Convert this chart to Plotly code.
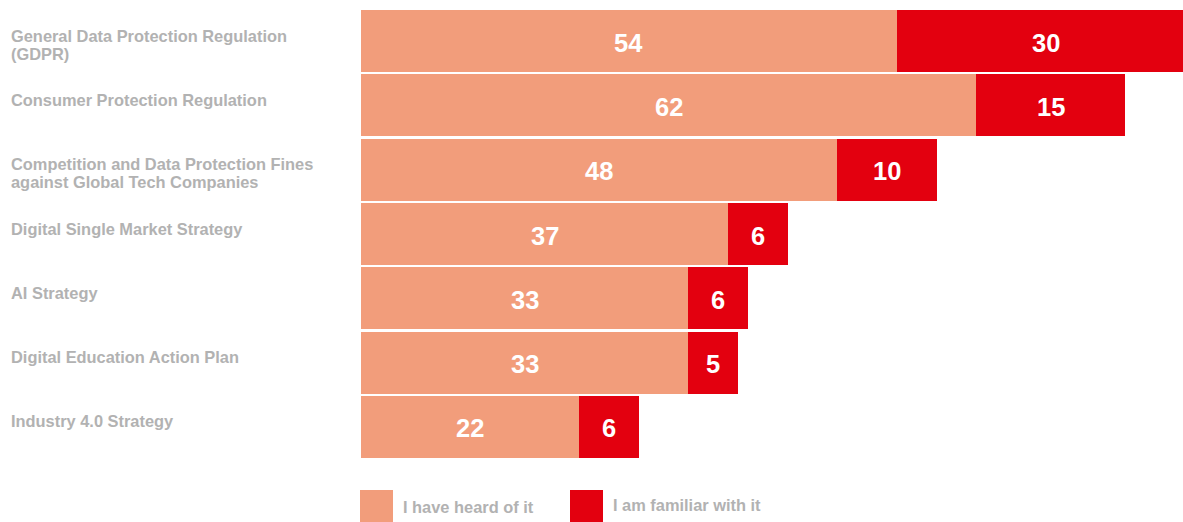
import plotly.graph_objects as go

# --- data -------------------------------------------------------------
categories = [
    "General Data Protection Regulation<br>(GDPR)",
    "Consumer Protection Regulation",
    "Competition and Data Protection Fines<br>against Global Tech Companies",
    "Digital Single Market Strategy",
    "AI Strategy",
    "Digital Education Action Plan",
    "Industry 4.0 Strategy",
]
heard = [54, 62, 48, 37, 33, 33, 22]
familiar = [30, 15, 10, 6, 6, 5, 6]
series_names = ["I have heard of it", "I am familiar with it"]

# --- styling ----------------------------------------------------------
W, H = 1183, 522
M_L, M_R, M_T, M_B = 361, 0, 9, 63
PLOT_W = W - M_L - M_R
PLOT_H = H - M_T - M_B
X_MAX = 82.83

C_HEARD = "#F29D7B"
C_FAMILIAR = "#E3000F"
C_LABEL = "#B2B2B2"
FONT = "Liberation Sans, Arial, Helvetica, sans-serif"
LABEL_SIZE = 16.4
VALUE_SIZE = 25.5
LINE_GAP = 18


def px_to_paper_x(px):
    return (px - M_L) / PLOT_W


def px_to_paper_y(py):
    return (H - M_B - py) / PLOT_H


fig = go.Figure()

fig.add_trace(go.Bar(
    y=categories, x=heard, orientation="h", name=series_names[0],
    marker=dict(color=C_HEARD, line=dict(width=0)),
    hoverinfo="x+name",
))
fig.add_trace(go.Bar(
    y=categories, x=familiar, orientation="h", name=series_names[1],
    marker=dict(color=C_FAMILIAR, line=dict(width=0)),
    hoverinfo="x+name",
))

annotations = []

# value labels centred in each stacked segment
for cat, h, f in zip(categories, heard, familiar):
    for cx, val in ((h / 2, h), (h + f / 2, f)):
        annotations.append(dict(
            x=cx, xref="x", xanchor="center",
            y=cat, yref="y", yanchor="middle", yshift=-1.5,
            text=str(val), showarrow=False,
            font=dict(family=FONT, size=VALUE_SIZE, color="white", weight="bold"),
        ))

# category labels at the left, top aligned with each bar
for cat in categories:
    for k, line in enumerate(cat.split("<br>")):
        annotations.append(dict(
            x=px_to_paper_x(9), xref="paper", xanchor="left",
            y=cat, yref="y", yanchor="top",
            yshift=16.5 - k * LINE_GAP,
            text=line, showarrow=False, align="left",
            font=dict(family=FONT, size=LABEL_SIZE, color=C_LABEL, weight="bold"),
        ))

# legend: large swatches with labels below the bars
shapes = []
legend_items = [
    (series_names[0], C_HEARD, 360, 401, 496.2),
    (series_names[1], C_FAMILIAR, 570, 611, 494.2),
]
for name, color, sx, tx, ty in legend_items:
    shapes.append(dict(
        type="rect", xref="paper", yref="paper",
        x0=px_to_paper_x(sx), x1=px_to_paper_x(sx + 33),
        y0=px_to_paper_y(490), y1=px_to_paper_y(523),
        fillcolor=color, line=dict(width=0), layer="above",
    ))
    annotations.append(dict(
        x=px_to_paper_x(tx), xref="paper", xanchor="left",
        y=px_to_paper_y(ty), yref="paper", yanchor="top",
        text=name, showarrow=False, align="left",
        font=dict(family=FONT, size=LABEL_SIZE, color=C_LABEL, weight="bold"),
    ))

fig.update_layout(
    width=W, height=H,
    margin=dict(l=M_L, r=M_R, t=M_T, b=M_B, pad=0),
    barmode="stack", bargap=0.036,
    showlegend=False,
    plot_bgcolor="white", paper_bgcolor="white",
    xaxis=dict(range=[0, X_MAX], visible=False, fixedrange=True),
    yaxis=dict(
        type="category", categoryorder="array", categoryarray=categories,
        range=[len(categories) - 0.5, -0.5],
        showticklabels=False, showgrid=False, zeroline=False, showline=False,
        ticks="", fixedrange=True,
    ),
    annotations=annotations,
    shapes=shapes,
    font=dict(family=FONT),
)

fig.write_html("out.html")
